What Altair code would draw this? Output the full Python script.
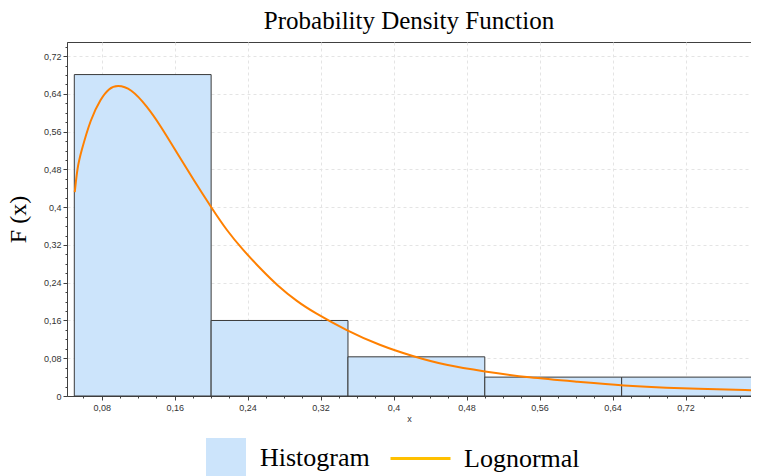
import altair as alt
import pandas as pd

# Histogram bins (density)
bin_start = [0.05, 0.20, 0.35, 0.50, 0.65]
bin_end = [0.20, 0.35, 0.50, 0.65, 0.80]
density = [0.681, 0.160, 0.083, 0.040, 0.040]

# Lognormal curve
curve_x = [0.0505, 0.0535, 0.057, 0.068, 0.079, 0.088, 0.097, 0.112, 0.130, 0.144,
           0.162, 0.181, 0.201, 0.217, 0.235, 0.254, 0.272, 0.295, 0.312, 0.348,
           0.385, 0.421, 0.457, 0.499, 0.548, 0.603, 0.650, 0.712, 0.800]
curve_y = [0.432, 0.485, 0.514, 0.588, 0.630, 0.652, 0.659, 0.652, 0.613, 0.574,
           0.517, 0.457, 0.397, 0.351, 0.309, 0.270, 0.235, 0.199, 0.178, 0.139,
           0.107, 0.084, 0.065, 0.052, 0.039, 0.030, 0.022, 0.016, 0.012]

x_ticks = [0.08, 0.16, 0.24, 0.32, 0.40, 0.48, 0.56, 0.64, 0.72, 0.80]
y_ticks = [0.0, 0.08, 0.16, 0.24, 0.32, 0.40, 0.48, 0.56, 0.64, 0.72]
x_minor = [0.06, 0.10, 0.12, 0.14, 0.18, 0.20, 0.22, 0.26, 0.28, 0.30, 0.34, 0.36, 0.38,
           0.42, 0.44, 0.46, 0.50, 0.52, 0.54, 0.58, 0.60, 0.62, 0.66, 0.68, 0.70,
           0.74, 0.76, 0.78]
y_minor = [0.02, 0.04, 0.06, 0.10, 0.12, 0.14, 0.18, 0.20, 0.22, 0.26, 0.28, 0.30,
           0.34, 0.36, 0.38, 0.42, 0.44, 0.46, 0.50, 0.52, 0.54, 0.58, 0.60, 0.62,
           0.66, 0.68, 0.70, 0.74]

hist = pd.DataFrame({"x0": bin_start, "x1": bin_end, "d": density, "series": ["Histogram"] * 5})
curve = pd.DataFrame({"x": curve_x, "y": curve_y, "series": ["Lognormal"] * len(curve_x)})

XDOM = [0.042, 0.7918]
YDOM = [0, 0.75]
xscale = alt.Scale(domain=XDOM, nice=False, zero=False)
yscale = alt.Scale(domain=YDOM, nice=False)
label_expr = "replace(format(datum.value, '.2~f'), '.', ',')"

major_x = alt.Axis(values=x_ticks, labelExpr=label_expr, title="x", grid=True,
                   gridDash=[3, 3], gridColor="#e4e4e4", tickSize=4, labelPadding=3,
                   titlePadding=2, titleFontSize=9, titleFontWeight="normal",
                   titleFont="Liberation Sans", titleColor="#333", titleX=342)
major_y = alt.Axis(values=y_ticks, labelExpr=label_expr, title="F (x)", grid=True,
                   gridDash=[3, 3], gridColor="#e4e4e4", tickSize=4, labelPadding=2,
                   titleFont="Liberation Serif", titleFontSize=24, titleFontWeight="normal",
                   titleColor="#000", titlePadding=13)

bars = alt.Chart(hist).mark_bar(stroke="#3a3a3a", strokeWidth=1, opacity=1).encode(
    x=alt.X("x0:Q", scale=xscale, axis=major_x),
    x2="x1:Q",
    y=alt.Y("d:Q", scale=yscale, axis=major_y),
    y2=alt.datum(0),
    fill=alt.Fill("series:N", scale=alt.Scale(domain=["Histogram"], range=["#cce4fb"]),
                  legend=alt.Legend(title=None, orient="none", legendX=139, legendY=396,
                                    symbolType="square", symbolSize=1600,
                                    symbolStrokeWidth=0, symbolOpacity=1,
                                    labelFont="Liberation Serif", labelFontSize=26,
                                    labelColor="#000", labelOffset=14, labelLimit=300,
                                    padding=0)),
)

minor_x = alt.Axis(values=x_minor, labels=False, title=None, grid=False, tickSize=2,
                   orient="bottom", domain=False)
minor_y = alt.Axis(values=y_minor, labels=False, title=None, grid=False, tickSize=2,
                   orient="left", domain=False)

line = alt.Chart(curve).mark_line(strokeWidth=2, interpolate="basis", stroke="#ff8000").encode(
    x=alt.X("x:Q", scale=xscale, axis=minor_x),
    y=alt.Y("y:Q", scale=yscale, axis=minor_y),
)

# legend-only layer (no rows drawn)
legend_line = alt.Chart(curve).transform_filter("false").mark_line(strokeWidth=3).encode(
    x=alt.X("x:Q", scale=xscale, axis=None),
    y=alt.Y("y:Q", scale=yscale, axis=None),
    stroke=alt.Stroke("series:N", scale=alt.Scale(domain=["Lognormal"], range=["#ffc000"]),
                      legend=alt.Legend(title=None, orient="none", legendX=322, legendY=385,
                                        symbolType="stroke", symbolSize=3600,
                                        symbolStrokeWidth=3,
                                        labelFont="Liberation Serif", labelFontSize=26,
                                        labelColor="#000", labelOffset=12, labelLimit=300,
                                        padding=0)),
)

chart = alt.layer(bars, line, legend_line).resolve_axis(x="independent", y="independent").resolve_legend(
    fill="independent", stroke="independent"
).properties(
    width=684,
    height=354,
    title=alt.TitleParams("Probability Density Function", font="Liberation Serif",
                          fontSize=25, fontWeight="normal", color="#000", offset=8,
                          anchor="middle"),
    autosize=alt.AutoSizeParams(type="none"),
    padding={"left": 59, "top": 34, "right": 0, "bottom": 80},
).configure_axis(
    domainColor="#404040", tickColor="#404040", labelFont="Liberation Sans",
    labelFontSize=9, labelColor="#333"
).configure_view(
    stroke="#404040", strokeWidth=1
)

chart.save("out.html", embed_options={"renderer": "svg", "actions": False})
